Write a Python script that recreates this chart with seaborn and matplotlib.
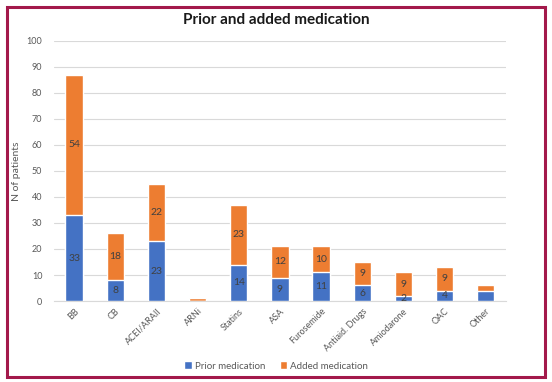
import matplotlib
matplotlib.use('Agg')
import matplotlib.pyplot as plt
import seaborn as sns
import pandas as pd
from matplotlib.patches import Rectangle

categories = ['BB', 'CB', 'ACEI/ARAII', 'ARNi', 'Statins', 'ASA', 'Furosemide',
              'Antiaid. Drugs', 'Amiodarone', 'OAC', 'Other']
prior = [33, 8, 23, 0, 14, 9, 11, 6, 2, 4, 4]
added = [54, 18, 22, 1, 23, 12, 10, 9, 9, 9, 2]
show_label = [True, True, True, False, True, True, True, True, True, True, False]

df = pd.DataFrame({'cat': categories, 'prior': prior, 'added': added})
df['total'] = df['prior'] + df['added']

sns.set_style('white')
plt.rcParams['font.family'] = ['Lato', 'DejaVu Sans']

blue = '#4472C4'
orange = '#ED7D31'

fig = plt.figure(figsize=(5.52, 3.82), dpi=100)
ax = fig.add_axes([0.097, 0.212, 0.82, 0.681])

sns.barplot(data=df, x='cat', y='total', color=orange, width=0.42,
            saturation=1, ax=ax, label='Added medication', zorder=3)
sns.barplot(data=df, x='cat', y='prior', color=blue, width=0.42,
            saturation=1, ax=ax, label='Prior medication', zorder=3)

blue_bars = ax.containers[1]
ax.bar_label(blue_bars, labels=[str(p) if s else '' for p, s in zip(prior, show_label)],
             label_type='center', fontsize=7.5, color='#404040')
for i, (p, a, s) in enumerate(zip(prior, added, show_label)):
    if s:
        ax.text(i, p + a / 2, str(a), ha='center', va='center', fontsize=7.5, color='#404040')

ax.set_ylim(0, 100)
ax.set_yticks(range(0, 101, 10))
ax.set_xlim(-0.5, len(categories) - 0.5)
ax.yaxis.grid(True, color='#D9D9D9', linewidth=0.8, zorder=0)
ax.set_axisbelow(True)
for s in ['top', 'right', 'left']:
    ax.spines[s].set_visible(False)
ax.spines['bottom'].set_color('#D9D9D9')
ax.tick_params(axis='y', labelsize=6.5, colors='#595959', length=0, pad=8)
ax.tick_params(axis='x', labelsize=6.5, colors='#595959', length=0, pad=4)
plt.setp(ax.get_xticklabels(), rotation=45, ha='right', rotation_mode='anchor')
ax.set_xlabel('')
ax.set_ylabel('N of patients', fontsize=7.5, color='#595959', labelpad=4)

fig.suptitle('Prior and added medication', x=0.5, y=0.965, fontsize=11,
             fontweight='bold', color='#1a1a1a')

handles, labels = ax.get_legend_handles_labels()
ax.get_legend().remove()
order = [labels.index('Prior medication'), labels.index('Added medication')]
fig.legend([handles[i] for i in order], [labels[i] for i in order],
           loc='center', bbox_to_anchor=(0.5, 0.042), ncol=2, frameon=False,
           fontsize=7, handlelength=0.8, handleheight=0.8, handletextpad=0.3,
           columnspacing=1.5, labelcolor='#595959')

fig.patches.append(Rectangle((0.012, 0.012), 0.976, 0.97, transform=fig.transFigure,
                             fill=False, edgecolor='#A3194B', linewidth=2.2))

fig.savefig('out.png', dpi=100)
